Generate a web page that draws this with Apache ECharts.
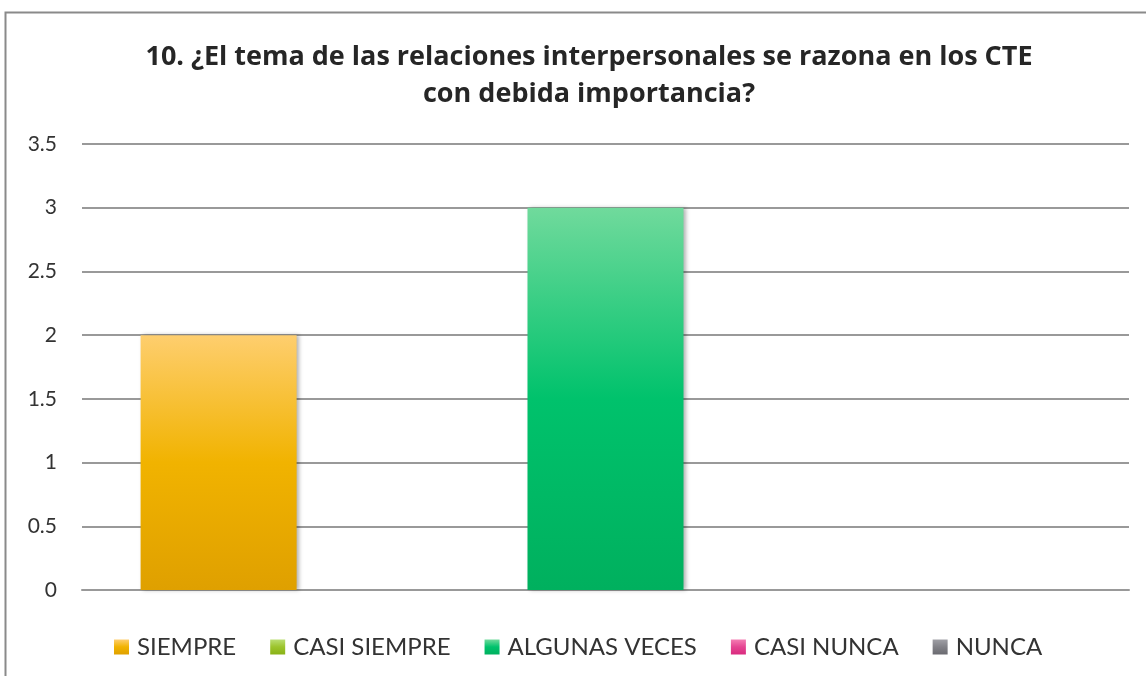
<!DOCTYPE html>
<html>
<head>
<meta charset="utf-8">
<script src="https://cdn.jsdelivr.net/npm/echarts@6/dist/echarts.min.js"></script>
<style>
  html, body { margin: 0; padding: 0; background: #fff; }
  #chart { width: 1146px; height: 676px; }
</style>
</head>
<body>
<div id="chart"></div>
<script>
// datos
const categories = ['10'];
const seriesNames = ['SIEMPRE', 'CASI SIEMPRE', 'ALGUNAS VECES', 'CASI NUNCA', 'NUNCA'];
const seriesValues = [[2], [0], [3], [0], [0]];
const yTicks = [0, 0.5, 1, 1.5, 2, 2.5, 3, 3.5];

// degradados de cada serie (arriba, medio, abajo)
const gradients = [
  ['#fece6e', '#f1b300', '#dfa000'],
  ['#bade72', '#9cc42c', '#89b216'],
  ['#70da9c', '#00c26c', '#00b05e'],
  ['#f47db3', '#e54592', '#d92a7e'],
  ['#a0a0a6', '#828288', '#6a6a70']
];

const font = 'Lato, "Open Sans", sans-serif';

const myChart = echarts.init(document.getElementById('chart'));

myChart.setOption({
  backgroundColor: '#fff',
  animation: false,
  title: {
    text: '10. ¿El tema de las relaciones interpersonales se razona en los CTE\ncon debida importancia?',
    left: 584,
    top: 34,
    textAlign: 'center',
    textStyle: {
      fontFamily: '"Open Sans", sans-serif',
      fontSize: 27,
      fontWeight: 'bold',
      color: '#262626',
      lineHeight: 37
    }
  },
  graphic: [{
    type: 'rect',
    shape: { x: 5.5, y: 12.5, width: 1200, height: 700 },
    style: { fill: 'none', stroke: '#8a8a8a', lineWidth: 2 },
    silent: true
  }],
  legend: {
    data: seriesNames,
    left: 109,
    top: 630,
    itemWidth: 15,
    itemHeight: 15,
    itemGap: 34,
    icon: 'rect',
    textStyle: {
      fontFamily: font,
      fontSize: 24,
      color: '#333',
      padding: [0, 0, 0, 3]
    }
  },
  grid: {
    left: 82,
    right: 17,
    top: 144,
    bottom: 86
  },
  xAxis: {
    type: 'category',
    data: categories,
    axisLine: { lineStyle: { color: '#999', width: 2 } },
    axisTick: { show: false },
    axisLabel: { show: false }
  },
  yAxis: {
    type: 'value',
    min: yTicks[0],
    max: yTicks[yTicks.length - 1],
    interval: 0.5,
    axisLine: { show: false },
    axisTick: { show: false },
    axisLabel: {
      margin: 25,
      fontFamily: font,
      fontSize: 21,
      color: '#333'
    },
    splitLine: { lineStyle: { color: '#999', width: 2 } }
  },
  series: seriesNames.map((name, i) => ({
    name: name,
    type: 'bar',
    data: seriesValues[i],
    barWidth: 156,
    barGap: '24%',
    itemStyle: {
      color: new echarts.graphic.LinearGradient(0, 0, 0, 1, [
        { offset: 0, color: gradients[i][0] },
        { offset: 0.5, color: gradients[i][1] },
        { offset: 1, color: gradients[i][2] }
      ]),
      shadowBlur: 4,
      shadowOffsetX: 2,
      shadowColor: 'rgba(0,0,0,0.3)'
    }
  }))
});

window.onresize = function () {
  myChart.resize();
};
</script>
</body>
</html>
